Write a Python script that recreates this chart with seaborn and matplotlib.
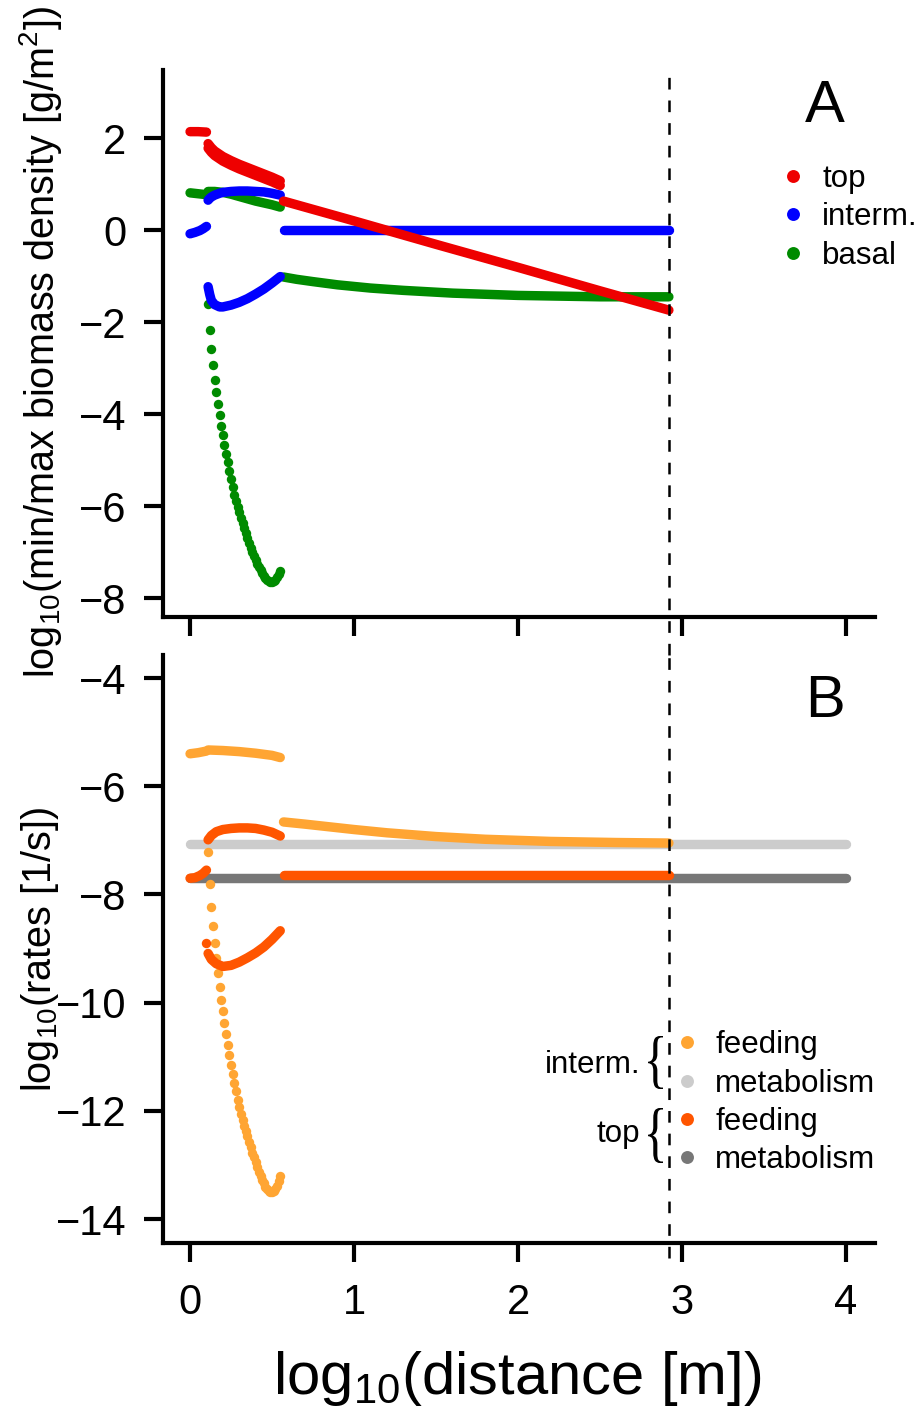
import matplotlib
matplotlib.use("Agg")
import matplotlib.pyplot as plt
import seaborn as sns
from matplotlib.lines import Line2D
from matplotlib.textpath import TextPath
from matplotlib.patches import PathPatch
from matplotlib.font_manager import FontProperties
from matplotlib.transforms import Affine2D, IdentityTransform

# ---------------- data ----------------
# common grid of the steep (dotted) branch, log10 distance
dive_x = [0.11, 0.12, 0.13, 0.14, 0.15, 0.16, 0.17, 0.18, 0.19, 0.20,
          0.21, 0.22, 0.23, 0.24, 0.25, 0.26, 0.27, 0.28, 0.29, 0.30,
          0.31, 0.32, 0.33, 0.34, 0.35, 0.36, 0.37, 0.38, 0.39, 0.40,
          0.41, 0.42, 0.43, 0.44, 0.45, 0.46, 0.47, 0.48, 0.49, 0.50,
          0.51, 0.52, 0.53, 0.54, 0.55]

# Panel A: log10 min/max biomass density
top_x1 = [0.00, 0.05, 0.10]
top_y1 = [2.14, 2.14, 2.13]
top_x2 = [0.11, 0.13, 0.15, 0.20, 0.25, 0.30, 0.35, 0.40, 0.45, 0.50, 0.55]
top_max2 = [1.88, 1.79, 1.72, 1.60, 1.51, 1.43, 1.36, 1.29, 1.22, 1.15, 1.07]
top_min2 = [1.78, 1.69, 1.62, 1.50, 1.41, 1.33, 1.26, 1.19, 1.12, 1.05, 0.97]
top_x3 = [0.57, 1.00, 1.50, 2.00, 2.50, 2.92]
top_y3 = [0.63, 0.20, -0.31, -0.81, -1.32, -1.74]

int_x1 = [0.00, 0.03, 0.06, 0.08, 0.10]
int_y1 = [-0.08, -0.05, -0.01, 0.03, 0.08]
int_x2 = [0.11, 0.12, 0.13, 0.15, 0.18, 0.20, 0.25, 0.30, 0.35, 0.40, 0.45, 0.50, 0.55]
int_max2 = [0.65, 0.69, 0.72, 0.76, 0.80, 0.82, 0.84, 0.85, 0.85, 0.84, 0.83, 0.80, 0.76]
int_min2 = [-1.23, -1.40, -1.53, -1.62, -1.67, -1.67, -1.63, -1.57, -1.49, -1.39, -1.28, -1.15, -1.01]
int_x3 = [0.57, 2.92]
int_y3 = [0.00, 0.00]

bas_x1 = [0.00, 0.05, 0.10]
bas_y1 = [0.81, 0.79, 0.77]
bas_x2 = [0.11, 0.15, 0.20, 0.25, 0.30, 0.35, 0.40, 0.45, 0.50, 0.55]
bas_max2 = [0.84, 0.84, 0.82, 0.78, 0.73, 0.68, 0.63, 0.59, 0.55, 0.50]
bas_min2 = [-1.60, -2.17, -2.59, -2.94, -3.25, -3.52, -3.78, -4.02, -4.25, -4.46,
            -4.67, -4.86, -5.04, -5.23, -5.41, -5.58, -5.76, -5.89, -6.01, -6.13,
            -6.25, -6.37, -6.48, -6.59, -6.70, -6.80, -6.90, -6.99, -7.08, -7.17,
            -7.25, -7.32, -7.39, -7.45, -7.51, -7.56, -7.60, -7.63, -7.65, -7.65,
            -7.63, -7.60, -7.55, -7.48, -7.40]
bas_x3 = [0.57, 0.65, 0.75, 0.90, 1.10, 1.30, 1.60, 2.00, 2.50, 2.92]
bas_y3 = [-1.02, -1.07, -1.12, -1.19, -1.26, -1.31, -1.37, -1.42, -1.45, -1.45]

# Panel B: log10 rates
ifeed_x1 = [0.00, 0.05, 0.10]
ifeed_y1 = [-5.40, -5.38, -5.35]
ifeed_x2 = [0.11, 0.20, 0.30, 0.40, 0.50, 0.55]
ifeed_max2 = [-5.33, -5.34, -5.36, -5.39, -5.43, -5.47]
ifeed_min2 = [-7.21, -7.81, -8.23, -8.58, -8.90, -9.18, -9.45, -9.71, -9.95, -10.16,
              -10.38, -10.58, -10.78, -10.97, -11.15, -11.32, -11.48, -11.64, -11.79, -11.93,
              -12.05, -12.16, -12.27, -12.37, -12.47, -12.57, -12.67, -12.77, -12.86, -12.95,
              -13.04, -13.12, -13.20, -13.27, -13.34, -13.40, -13.45, -13.48, -13.50, -13.50,
              -13.48, -13.44, -13.38, -13.30, -13.21]
ifeed_x3 = [0.57, 0.70, 0.85, 1.00, 1.20, 1.50, 1.80, 2.20, 2.60, 2.92]
ifeed_y3 = [-6.66, -6.70, -6.75, -6.80, -6.86, -6.93, -6.98, -7.02, -7.04, -7.05]

tfeed_x1 = [0.00, 0.03, 0.06, 0.08, 0.10]
tfeed_y1 = [-7.70, -7.69, -7.65, -7.61, -7.55]
tfeed_x2 = [0.11, 0.13, 0.16, 0.20, 0.25, 0.30, 0.35, 0.40, 0.45, 0.50, 0.55]
tfeed_max2 = [-6.99, -6.91, -6.84, -6.80, -6.78, -6.77, -6.77, -6.78, -6.81, -6.85, -6.92]
tfeed_min2 = [-9.09, -9.20, -9.28, -9.33, -9.31, -9.25, -9.17, -9.08, -8.97, -8.83, -8.67]
tfeed_dot_x = [0.10]
tfeed_dot_y = [-8.90]
tfeed_x3 = [0.57, 2.92]
tfeed_y3 = [-7.64, -7.64]

imet_x = [0.00, 4.00]
imet_y = [-7.07, -7.07]
tmet_x = [0.00, 4.00]
tmet_y = [-7.70, -7.70]

x_ticks = [0, 1, 2, 3, 4]
a_ticks = [-8, -6, -4, -2, 0, 2]
b_ticks = [-14, -12, -10, -8, -6, -4]
max_distance = 2.92

# ---------------- style ----------------
C_TOP, C_INT, C_BAS = "#EE0000", "#0000FF", "#008B00"
C_IFEED, C_IMET, C_TFEED, C_TMET = "#FFA533", "#CCCCCC", "#FF5500", "#777777"

sns.set_theme(style="ticks")
plt.rcParams.update({
    "font.family": ["Liberation Sans", "DejaVu Sans"],
    "mathtext.fontset": "custom",
    "mathtext.rm": "Liberation Sans",
    "mathtext.it": "Liberation Sans:italic",
    "mathtext.bf": "Liberation Sans:bold",
    "mathtext.default": "regular",
    "axes.unicode_minus": True,
    "lines.scale_dashes": False,
    "text.color": "black",
    "axes.edgecolor": "black",
    "axes.labelcolor": "black",
    "xtick.color": "black",
    "ytick.color": "black",
})

W, H = 922, 1407
fig = plt.figure(figsize=(W / 100, H / 100), dpi=100)


def fx(px):
    return px / W


def fy(py):
    return 1 - py / H


LW = 6.8      # stroke width of dense point runs (pt)
DOT = 46      # marker area of isolated points (pt^2)


def run(ax, xs, ys, color, z):
    sns.lineplot(x=xs, y=ys, ax=ax, color=color, lw=LW, sort=False,
                 estimator=None, solid_capstyle="round", zorder=z)


def dots(ax, xs, ys, color, z):
    sns.scatterplot(x=xs, y=ys, ax=ax, color=color, s=DOT, linewidth=0, zorder=z)


axA = fig.add_axes([fx(163), fy(617), fx(875) - fx(163), fy(70) - fy(617)])
axB = fig.add_axes([fx(163), fy(1243), fx(875) - fx(163), fy(655) - fy(1243)])

# panel A
run(axA, bas_x1, bas_y1, C_BAS, 3)
run(axA, bas_x2, bas_max2, C_BAS, 3)
dots(axA, dive_x, bas_min2, C_BAS, 3)
run(axA, bas_x3, bas_y3, C_BAS, 3)

run(axA, int_x1, int_y1, C_INT, 4)
run(axA, int_x2, int_max2, C_INT, 4)
run(axA, int_x2, int_min2, C_INT, 4)
run(axA, int_x3, int_y3, C_INT, 4)

run(axA, top_x1, top_y1, C_TOP, 5)
run(axA, top_x2, top_max2, C_TOP, 5)
run(axA, top_x2, top_min2, C_TOP, 5)
run(axA, top_x3, top_y3, C_TOP, 5)

# panel B
run(axB, imet_x, imet_y, C_IMET, 2)
run(axB, tmet_x, tmet_y, C_TMET, 2)

run(axB, ifeed_x1, ifeed_y1, C_IFEED, 3)
run(axB, ifeed_x2, ifeed_max2, C_IFEED, 3)
dots(axB, dive_x, ifeed_min2, C_IFEED, 3)
run(axB, ifeed_x3, ifeed_y3, C_IFEED, 3)

run(axB, tfeed_x1, tfeed_y1, C_TFEED, 4)
run(axB, tfeed_x2, tfeed_max2, C_TFEED, 4)
run(axB, tfeed_x2, tfeed_min2, C_TFEED, 4)
dots(axB, tfeed_dot_x, tfeed_dot_y, C_TFEED, 4)
run(axB, tfeed_x3, tfeed_y3, C_TFEED, 4)

# axes cosmetics
for ax, yt, ylim in ((axA, a_ticks, (-8.41, 3.48)), (axB, b_ticks, (-14.44, -3.575))):
    ax.set_xlim(-0.165, 4.177)
    ax.set_ylim(*ylim)
    ax.set_xticks(x_ticks)
    ax.set_yticks(yt)
    ax.set_xlabel("")
    ax.set_ylabel("")
    sns.despine(ax=ax)
    for side in ("left", "bottom"):
        ax.spines[side].set_linewidth(3.0)
        ax.spines[side].set_color("black")
    ax.tick_params(direction="out", length=13.5, width=3.0, labelsize=30,
                   pad=13, color="black", labelcolor="black")
    ax.patch.set_alpha(0)
    ax.axvline(max_distance, color="black", lw=1.8, ls=(0, (8.4, 7.9)),
               clip_on=False, zorder=6,
               ymin=-(655 - 617) / 547 if ax is axA else -(1258 - 1243) / 588,
               ymax=1.0 + (2 / 547 if ax is axA else 0.0))
axA.tick_params(axis="x", labelbottom=False)
axB.tick_params(axis="x", pad=15)

# axis titles
fig.text(fx(41), fy(342), "log$_{10}$(min/max biomass density [g/m$^{2}$])",
         rotation=90, ha="center", va="center", fontsize=28.5)
fig.text(fx(40), fy(949), "log$_{10}$(rates [1/s])",
         rotation=90, ha="center", va="center", fontsize=28.5)
fig.text(fx(517), fy(1394), "log$_{10}$(distance [m])",
         ha="center", va="baseline", fontsize=43)

# panel letters
fig.text(fx(825), fy(122), "A", ha="center", va="baseline", fontsize=43)
fig.text(fx(825), fy(717), "B", ha="center", va="baseline", fontsize=43)

LEG_FS = 22.5
LEG_MS = 9.3


def legend_row(px_dot, py, color, label, px_text):
    fig.add_artist(Line2D([fx(px_dot)], [fy(py)], marker="o", ms=LEG_MS, color=color,
                          mec="none", ls="none", transform=fig.transFigure))
    fig.text(fx(px_text), fy(py + 11), label, ha="left", va="baseline", fontsize=LEG_FS)


legend_row(793, 176, C_TOP, "top", 822)
legend_row(793, 214, C_INT, "interm.", 822)
legend_row(793, 253, C_BAS, "basal", 822)

legend_row(687, 1042, C_IFEED, "feeding", 715)
legend_row(687, 1081, C_IMET, "metabolism", 715)
legend_row(687, 1119, C_TFEED, "feeding", 715)
legend_row(687, 1157, C_TMET, "metabolism", 715)

fig.text(fx(640), fy(1073), "interm.", ha="right", va="baseline", fontsize=LEG_FS)
fig.text(fx(640), fy(1142), "top", ha="right", va="baseline", fontsize=LEG_FS)

# curly braces grouping the rate entries
brace = TextPath((0, 0), "{", size=50, prop=FontProperties(family="Liberation Serif"))
bb = brace.get_extents()


def add_brace(left, top, width, height):
    tr = (Affine2D().translate(-bb.x0, -bb.y0)
          .scale(width / bb.width, height / bb.height)
          .translate(left, H - top - height))
    fig.add_artist(PathPatch(tr.transform_path(brace), facecolor="black",
                             edgecolor="none", transform=IdentityTransform()))


add_brace(648, 1036, 15, 53)
add_brace(648, 1108, 15, 55)

fig.savefig("out.png", dpi=100)
